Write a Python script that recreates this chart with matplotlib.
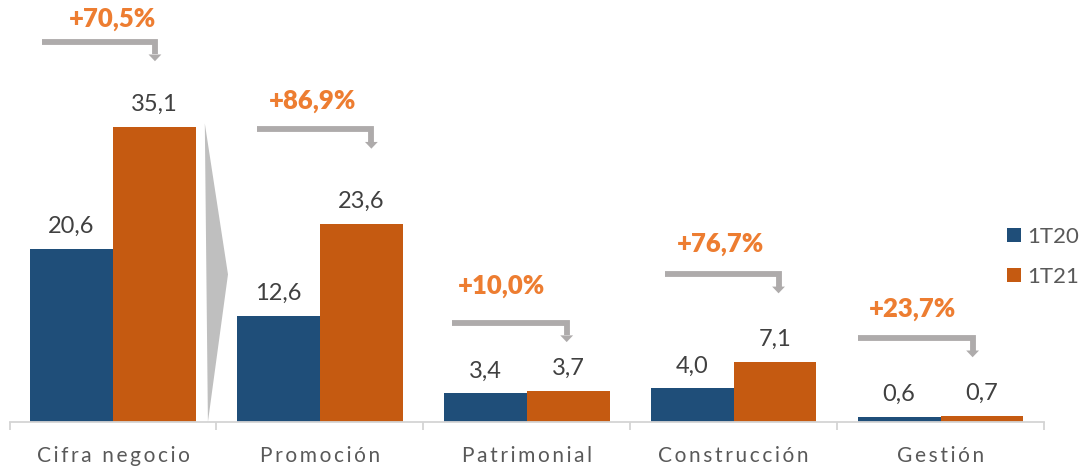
import matplotlib
matplotlib.use("Agg")
import matplotlib.pyplot as plt
import numpy as np

# ---- data ----
categories = ["Cifra negocio", "Promoción", "Patrimonial", "Construcción", "Gestión"]
series_names = ["1T20", "1T21"]
values_1t20 = [20.6, 12.6, 3.4, 4.0, 0.6]
values_1t21 = [35.1, 23.6, 3.7, 7.1, 0.7]
growth_labels = ["+70,5%", "+86,9%", "+10,0%", "+76,7%", "+23,7%"]

# ---- layout of growth brackets (data units) ----
bracket_y = [45.2, 34.8, 11.8, 17.6, 10.0]
bracket_x0 = [-0.343, -0.304, -0.362, -0.334, -0.401]
bracket_x1 = [0.203, 0.249, 0.193, 0.217, 0.155]
growth_y = [47.0, 37.2, 15.3, 20.2, 12.5]
growth_dx = [0.0, -0.034, -0.121, -0.063, -0.135]

BLUE = "#1F4E79"
ORANGE = "#C55A11"
LORANGE = "#ED7D31"
GRAY = "#AEABAB"
TRI = "#BFBFBF"
AXIS = "#D4D4D4"
DARK = "#404040"
MID = "#595959"

FONT = ["Lato", "DejaVu Sans"]
plt.rcParams["font.family"] = FONT

fig = plt.figure(figsize=(10.81, 4.68), dpi=100)
ax = fig.add_axes([9.5 / 1081, 46 / 468, (1044 - 9.5) / 1081, 422 / 468])
px_per_unit = 8.41
ax.set_ylim(0, 422 / px_per_unit)
ax.set_xlim(-0.5, 4.5)

x = np.arange(len(categories))
w = 0.4
b1 = ax.bar(x - w / 2, values_1t20, w, color=BLUE, label=series_names[0], zorder=2)
b2 = ax.bar(x + w / 2, values_1t21, w, color=ORANGE, label=series_names[1], zorder=2)

for bars, vals in ((b1, values_1t20), (b2, values_1t21)):
    for rect, v in zip(bars, vals):
        ax.annotate(f"{v:.1f}".replace(".", ","),
                    (rect.get_x() + rect.get_width() / 2, v),
                    xytext=(0, 16), textcoords="offset pixels",
                    ha="center", va="baseline", fontsize=17, color=DARK)

# connecting triangle (total -> breakdown)
tot = values_1t21[0]
ax.fill([0.444, 0.556, 0.459], [tot + 0.4, tot / 2, 0], color=TRI, lw=0, zorder=1)

# growth brackets
lw = 4.2
head_w = 0.031   # half width in data x
head_h = 0.8     # data y
for i in range(len(categories)):
    xs = i + bracket_x0[i]
    xe = i + bracket_x1[i]
    yb = bracket_y[i]
    ytip = yb - 2.3
    ax.plot([xs, xe, xe], [yb, yb, ytip + head_h], color=GRAY, lw=lw,
            solid_joinstyle="miter", solid_capstyle="butt", zorder=3)
    ax.fill([xe - head_w, xe + head_w, xe], [ytip + head_h, ytip + head_h, ytip],
            color=GRAY, lw=0, zorder=3)
    ax.text(i + growth_dx[i], growth_y[i], growth_labels[i], ha="center",
            va="baseline", fontsize=18.5, fontweight="heavy", color=LORANGE)

# axes styling
for s in ("top", "left", "right"):
    ax.spines[s].set_visible(False)
ax.spines["bottom"].set_color(AXIS)
ax.spines["bottom"].set_linewidth(1.3)
ax.set_yticks([])
ax.set_xticks(x)
ax.set_xticklabels(["\u2009".join(list(c)) for c in categories],
                   fontsize=15, color=MID)
ax.tick_params(axis="x", which="major", length=0, pad=17)
ax.set_xticks(np.arange(-0.5, len(categories)), minor=True)
ax.tick_params(axis="x", which="minor", length=5.5, width=1.3, color=AXIS)

leg = ax.legend(handles=[b1, b2], loc="upper left",
                bbox_to_anchor=(1007 / 1081, 1 - 227 / 468),
                bbox_transform=fig.transFigure, frameon=False,
                fontsize=16, handlelength=0.63, handleheight=0.63,
                handletextpad=0.3, labelspacing=0.9, borderpad=0,
                borderaxespad=0)
for t in leg.get_texts():
    t.set_color(MID)

fig.savefig("out.png", dpi=100)
